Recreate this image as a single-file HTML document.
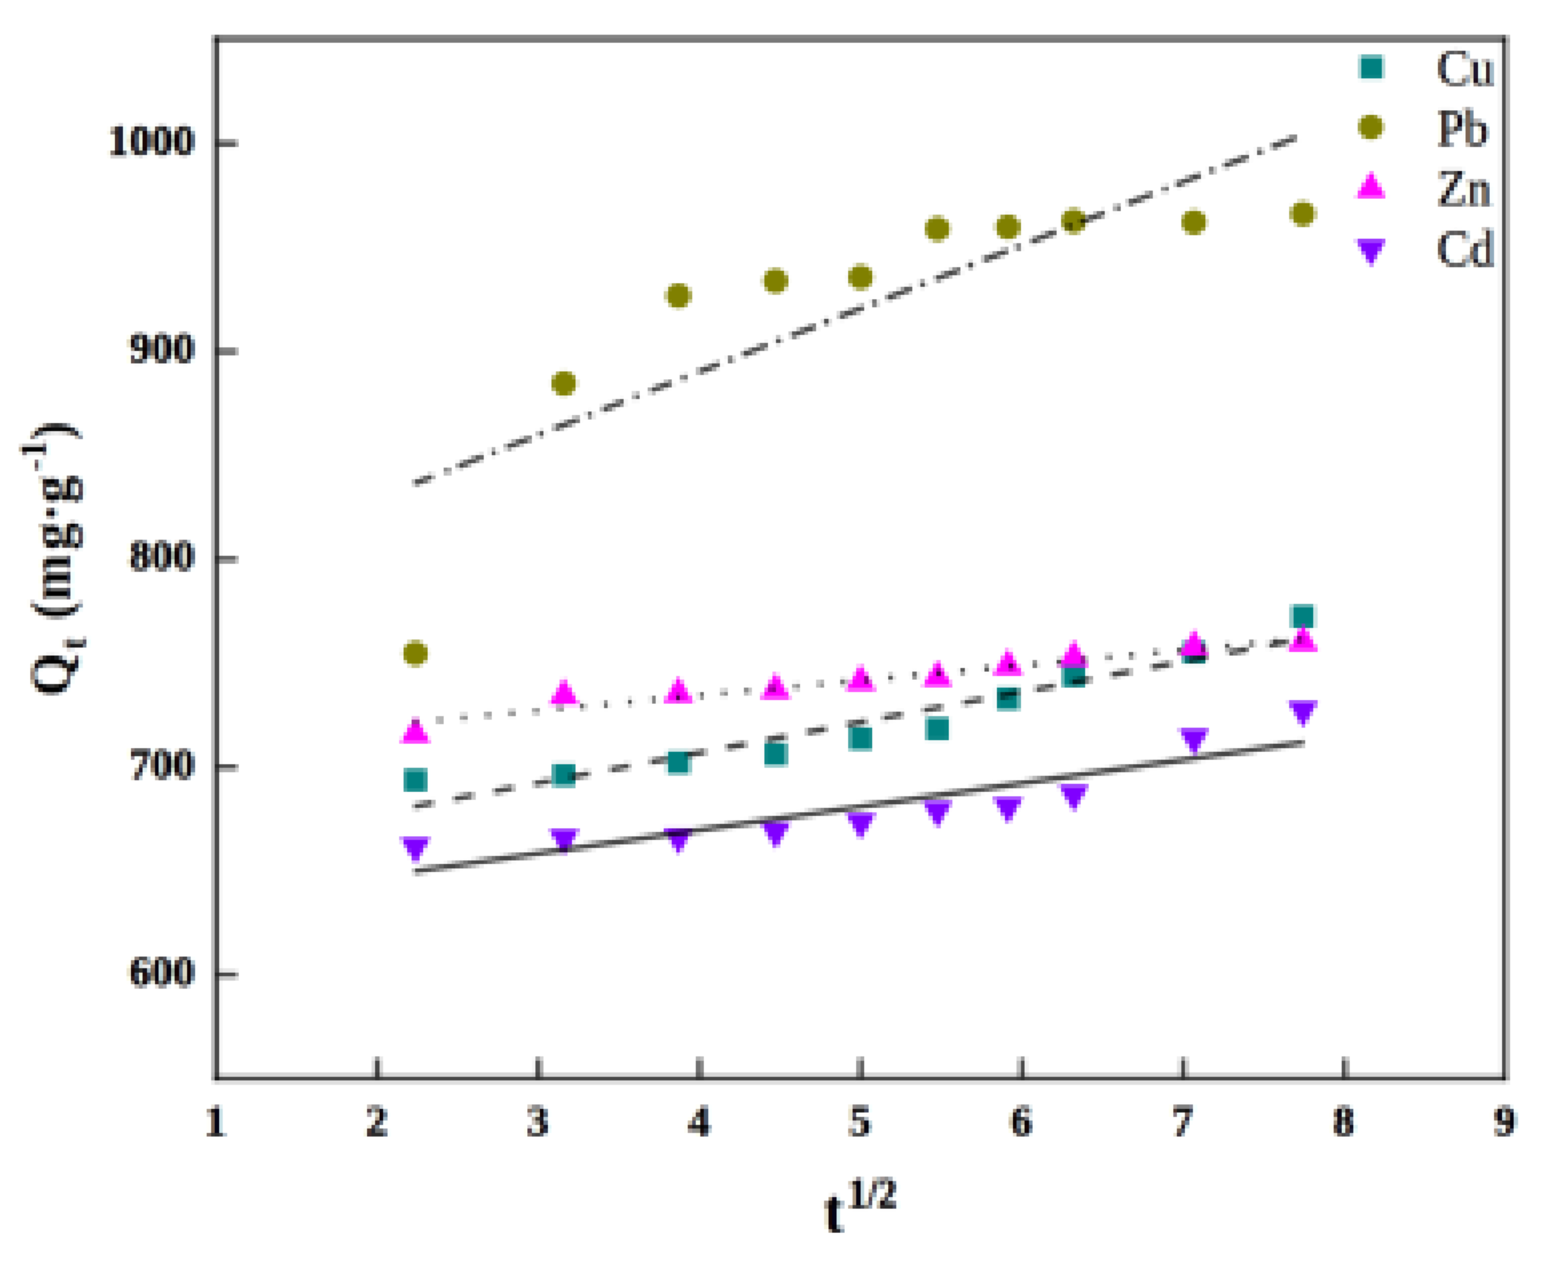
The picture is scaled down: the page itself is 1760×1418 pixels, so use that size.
<!DOCTYPE html>
<html lang="en"><head><meta charset="utf-8"><title>Intraparticle diffusion plot</title>
<style>html,body{margin:0;padding:0;background:#fff}body{width:1760px;height:1418px;overflow:hidden}svg{display:block}text{font-family:"Liberation Serif","DejaVu Serif",serif;fill:#000}.b{font-weight:bold;stroke:#000;stroke-width:0.8px}.r{stroke:#222;stroke-width:0.5px}.b2{font-weight:bold}</style></head><body>
<svg width="1760" height="1418" viewBox="0 0 1760 1418">
<defs><filter id="bl" filterUnits="userSpaceOnUse" primitiveUnits="userSpaceOnUse" x="0" y="0" width="1760" height="1418" color-interpolation-filters="sRGB">
<feFlood flood-color="#000" x="5" y="0" width="1" height="1418" result="fa"/>
<feOffset in="fa" dx="0" dy="0" x="0" y="0" width="9" height="1418" result="ta"/>
<feTile in="ta" x="0" y="0" width="1760" height="1418" result="colA"/>
<feFlood flood-color="#000" x="0" y="0" width="1" height="1418" result="fb"/>
<feOffset in="fb" dx="0" dy="0" x="0" y="0" width="9" height="1418" result="tb"/>
<feTile in="tb" x="0" y="0" width="1760" height="1418" result="colB"/>
<feFlood flood-color="#000" x="0" y="5" width="1760" height="1" result="fc"/>
<feOffset in="fc" dx="0" dy="0" x="0" y="0" width="1760" height="9" result="tc"/>
<feTile in="tc" x="0" y="0" width="1760" height="1418" result="rowA"/>
<feFlood flood-color="#000" x="0" y="0" width="1760" height="1" result="fd"/>
<feOffset in="fd" dx="0" dy="0" x="0" y="0" width="1760" height="9" result="td"/>
<feTile in="td" x="0" y="0" width="1760" height="1418" result="rowB"/>
<feConvolveMatrix in="SourceGraphic" order="6 1" targetX="3" targetY="0" kernelMatrix="0.25 1 1 1 1 0.25" divisor="4.5" edgeMode="duplicate" preserveAlpha="true" result="ca"/>
<feConvolveMatrix in="SourceGraphic" order="5 1" targetX="2" targetY="0" kernelMatrix="0.75 1 1 1 0.75" divisor="4.5" edgeMode="duplicate" preserveAlpha="true" result="cb"/>
<feComposite in="ca" in2="colA" operator="in" result="sa"/>
<feComposite in="cb" in2="colB" operator="in" result="sb"/>
<feMorphology in="sa" operator="dilate" radius="2 0" result="da"/>
<feMorphology in="sb" operator="dilate" radius="2 0" result="db"/>
<feMerge result="h"><feMergeNode in="da"/><feMergeNode in="db"/></feMerge>
<feConvolveMatrix in="h" order="1 6" targetX="0" targetY="3" kernelMatrix="0.25 1 1 1 1 0.25" divisor="4.5" edgeMode="duplicate" preserveAlpha="true" result="va"/>
<feConvolveMatrix in="h" order="1 5" targetX="0" targetY="2" kernelMatrix="0.75 1 1 1 0.75" divisor="4.5" edgeMode="duplicate" preserveAlpha="true" result="vb"/>
<feComposite in="va" in2="rowA" operator="in" result="ra"/>
<feComposite in="vb" in2="rowB" operator="in" result="rb"/>
<feMorphology in="ra" operator="dilate" radius="0 2" result="ea"/>
<feMorphology in="rb" operator="dilate" radius="0 2" result="eb"/>
<feFlood flood-color="#fff" x="0" y="0" width="1760" height="1418" result="wh"/>
<feMerge result="px"><feMergeNode in="wh"/><feMergeNode in="ea"/><feMergeNode in="eb"/></feMerge>
<feConvolveMatrix in="px" order="3" kernelMatrix="0.0225 0.105 0.0225 0.105 0.49 0.105 0.0225 0.105 0.0225" divisor="1" edgeMode="duplicate" preserveAlpha="true"/>
</filter>
<filter id="lcd" filterUnits="userSpaceOnUse" x="0" y="0" width="1760" height="1418" color-interpolation-filters="sRGB">
<feOffset in="SourceAlpha" dx="2" dy="0" result="ar"/>
<feOffset in="SourceAlpha" dx="-2" dy="0" result="ab"/>
<feColorMatrix in="ar" type="matrix" values="0 0 0 1 0 0 0 0 0 0 0 0 0 0 0 0 0 0 0 1" result="pr"/>
<feColorMatrix in="SourceAlpha" type="matrix" values="0 0 0 0 0 0 0 0 1 0 0 0 0 0 0 0 0 0 0 1" result="pg"/>
<feColorMatrix in="ab" type="matrix" values="0 0 0 0 0 0 0 0 0 0 0 0 0 1 0 0 0 0 0 1" result="pb"/>
<feComposite in="pr" in2="pg" operator="arithmetic" k1="0" k2="1" k3="1" k4="0" result="prg"/>
<feComposite in="prg" in2="pb" operator="arithmetic" k1="0" k2="1" k3="1" k4="0" result="pack"/>
<feColorMatrix in="pack" type="matrix" values="-0.22 -0.78 0 0 1 0 -1 0 0 1 0 -0.78 -0.22 0 1 0 0 0 0 1"/>
</filter></defs>
<rect width="1760" height="1418" fill="#fff"/>
<g filter="url(#bl)">
<rect width="1760" height="1418" fill="#fff"/>
<g filter="url(#lcd)">
<text class="r" transform="translate(1613 95.0) scale(1 1.05)" font-size="55">Cu</text>
<text class="r" transform="translate(1613 162.5) scale(1 1.05)" font-size="55">Pb</text>
<text class="r" transform="translate(1613 230.0) scale(1 1.05)" font-size="55">Zn</text>
<text class="r" transform="translate(1613 297.5) scale(1 1.05)" font-size="55">Cd</text>
<text class="b" x="218.5" y="1106.9" font-size="49" text-anchor="end">600</text>
<text class="b" x="218.5" y="873.6" font-size="49" text-anchor="end">700</text>
<text class="b" x="218.5" y="640.2" font-size="49" text-anchor="end">800</text>
<text class="b" x="218.5" y="406.8" font-size="49" text-anchor="end">900</text>
<text class="b" x="218.5" y="173.5" font-size="49" text-anchor="end">1000</text>
<text class="b" x="241.8" y="1275.3" font-size="49" text-anchor="middle">1</text>
<text class="b" x="422.8" y="1275.3" font-size="49" text-anchor="middle">2</text>
<text class="b" x="603.7" y="1275.3" font-size="49" text-anchor="middle">3</text>
<text class="b" x="784.7" y="1275.3" font-size="49" text-anchor="middle">4</text>
<text class="b" x="965.6" y="1275.3" font-size="49" text-anchor="middle">5</text>
<text class="b" x="1146.6" y="1275.3" font-size="49" text-anchor="middle">6</text>
<text class="b" x="1327.5" y="1275.3" font-size="49" text-anchor="middle">7</text>
<text class="b" x="1508.5" y="1275.3" font-size="49" text-anchor="middle">8</text>
<text class="b" x="1689.4" y="1275.3" font-size="49" text-anchor="middle">9</text>
<text class="b" transform="translate(925 1383) scale(1 1.12)" font-size="63">t<tspan font-size="43.5" dx="5.5" dy="-24.1">1/2</tspan></text>
<text class="b2" transform="translate(78.5 782) rotate(-90)" font-size="63">Q<tspan font-size="42" dy="18" dx="3">t</tspan><tspan dy="-18" dx="4.5"> (m</tspan><tspan dx="4.5">g·g</tspan><tspan font-size="42" dy="-27" dx="4.5">-1</tspan><tspan dy="27">)</tspan></text>
</g>
<path d="M242.75 40.20V1213.95" stroke="#000" stroke-opacity="0.73" stroke-width="6.3" fill="none"/>
<path d="M1688.85 40.20V1213.95" stroke="#000" stroke-opacity="0.73" stroke-width="6.3" fill="none"/>
<path d="M239.60 43.35H1692.00" stroke="#000" stroke-opacity="0.73" stroke-width="6.3" fill="none"/>
<path d="M239.60 1210.80H1692.00" stroke="#000" stroke-opacity="0.73" stroke-width="6.3" fill="none"/>
<path d="M423.55 1210.80V1188.30M604.50 1210.80V1188.30M785.45 1210.80V1188.30M966.40 1210.80V1188.30M1147.35 1210.80V1188.30M1328.30 1210.80V1188.30M1509.25 1210.80V1188.30M242.75 1094.42H266.25M242.75 861.06H266.25M242.75 627.70H266.25M242.75 394.34H266.25M242.75 160.98H266.25" stroke="#000" stroke-opacity="0.73" stroke-width="6.3" fill="none"/>
<g fill="#008080"><rect x="453.60" y="863.45" width="25.30" height="25.30"/><rect x="620.55" y="857.45" width="25.30" height="25.30"/><rect x="748.95" y="843.45" width="25.30" height="25.30"/><rect x="857.85" y="834.20" width="25.30" height="25.30"/><rect x="953.55" y="816.70" width="25.30" height="25.30"/><rect x="1039.55" y="805.45" width="25.30" height="25.30"/><rect x="1118.75" y="771.70" width="25.30" height="25.30"/><rect x="1192.55" y="746.20" width="25.30" height="25.30"/><rect x="1327.55" y="719.95" width="25.30" height="25.30"/><rect x="1449.85" y="679.45" width="25.30" height="25.30"/></g>
<g fill="#808000"><circle cx="466.25" cy="733.75" r="14.0"/><circle cx="633.20" cy="430.50" r="14.0"/><circle cx="761.60" cy="332.00" r="14.0"/><circle cx="870.50" cy="315.50" r="14.0"/><circle cx="966.20" cy="311.25" r="14.0"/><circle cx="1052.20" cy="257.00" r="14.0"/><circle cx="1131.40" cy="255.00" r="14.0"/><circle cx="1205.20" cy="248.25" r="14.0"/><circle cx="1340.20" cy="249.50" r="14.0"/><circle cx="1462.50" cy="240.00" r="14.0"/></g>
<path fill="#ff00ff" d="M449.25 834.00h34.00l-17.00 -30.00zM616.20 791.00h34.00l-17.00 -30.00zM744.60 789.00h34.00l-17.00 -30.00zM853.50 784.50h34.00l-17.00 -30.00zM949.20 775.25h34.00l-17.00 -30.00zM1035.20 770.75h34.00l-17.00 -30.00zM1114.40 757.75h34.00l-17.00 -30.00zM1188.20 748.25h34.00l-17.00 -30.00zM1323.20 736.50h34.00l-17.00 -30.00zM1445.50 730.75h34.00l-17.00 -30.00z"/>
<path fill="#8000ff" d="M449.25 940.25h34.00l-17.00 30.00zM616.20 931.00h34.00l-17.00 30.00zM744.60 929.75h34.00l-17.00 30.00zM853.50 923.50h34.00l-17.00 30.00zM949.20 913.00h34.00l-17.00 30.00zM1035.20 899.75h34.00l-17.00 30.00zM1114.40 895.25h34.00l-17.00 30.00zM1188.20 881.50h34.00l-17.00 30.00zM1323.20 818.50h34.00l-17.00 30.00zM1445.50 787.25h34.00l-17.00 30.00z"/>
<path d="M464.60 543.13L485.90 534.77M514.00 523.74L541.80 512.82M568.00 502.54L595.80 491.63M621.80 481.42L649.60 470.51M676.15 460.09L700.15 450.67M729.90 439.00L753.90 429.58M783.65 417.90L807.65 408.48M833.65 398.27L861.45 387.36M888.00 376.94L915.80 366.03M941.80 355.82L969.60 344.91M995.50 334.75L1023.30 323.84M1049.90 313.40L1077.70 302.48M1103.65 292.30L1131.45 281.39M1157.40 271.20L1185.20 260.29M1212.40 249.61L1240.20 238.70M1266.15 228.52L1293.95 217.61M1319.90 207.42L1347.70 196.51M1373.65 186.32L1401.45 175.41M1427.40 165.23L1455.20 154.32M499.30 529.51L504.70 527.39M551.55 509.00L556.95 506.88M604.60 488.18L610.00 486.06M659.40 466.67L664.80 464.55M711.80 446.10L717.20 443.98M765.40 425.06L770.80 422.94M817.55 404.59L822.95 402.47M871.30 383.50L876.70 381.38M925.05 362.40L930.45 360.28M979.20 341.15L984.60 339.03M1032.90 320.07L1038.30 317.95M1086.70 298.95L1092.10 296.83M1139.80 278.11L1145.20 275.99M1197.90 255.31L1203.30 253.19M1251.70 234.19L1257.10 232.07M1305.40 213.11L1310.80 210.99M1357.90 192.51L1363.30 190.39M1411.70 171.39L1417.10 169.27" stroke="#000" stroke-opacity="0.73" stroke-width="6.4" fill="none"/>
<path d="M463.85 810.97L468.65 810.53M491.00 808.43L495.80 807.98M518.00 805.91L522.80 805.46M545.10 803.37L549.90 802.92M572.00 800.85L576.80 800.40M599.10 798.32L603.90 797.87M626.10 795.79L630.90 795.34M651.60 793.40L656.40 792.95M677.60 790.97L682.40 790.52M704.70 788.43L709.50 787.98M731.35 785.94L736.15 785.49M758.85 783.36L763.65 782.91M785.10 780.91L789.90 780.46M810.70 778.51L815.50 778.06M836.60 776.09L841.40 775.64M864.60 773.46L869.40 773.02M891.70 770.93L896.50 770.48M918.85 768.39L923.65 767.94M944.50 765.99L949.30 765.54M970.70 763.53L975.50 763.08M997.60 761.02L1002.40 760.57M1024.50 758.50L1029.30 758.05M1051.35 755.98L1056.15 755.54M1078.20 753.47L1083.00 753.02M1105.10 750.95L1109.90 750.50M1132.60 748.38L1137.40 747.93M1159.50 745.86L1164.30 745.41M1186.35 743.35L1191.15 742.90M1214.60 740.70L1219.40 740.26M1242.70 738.07L1247.50 737.62M1267.80 735.72L1272.60 735.28M1295.20 733.16L1300.00 732.71M1321.70 730.68L1326.50 730.23M1349.10 728.12L1353.90 727.67M1375.60 725.63L1380.40 725.19M1403.00 723.07L1407.80 722.62M1430.30 720.51L1435.10 720.07M1456.90 718.03L1461.70 717.58" stroke="#000" stroke-opacity="0.73" stroke-width="6.4" fill="none"/>
<path d="M464.50 905.58L486.30 901.47M509.50 897.09L531.30 892.98M554.50 888.60L576.30 884.49M599.30 880.15L617.90 876.64M639.90 872.49L661.70 868.37M684.90 863.99L706.70 859.88M729.90 855.50L748.50 851.99M770.50 847.84L792.30 843.73M815.50 839.35L837.30 835.24M860.50 830.86L882.30 826.74M905.50 822.37L927.30 818.25M950.50 813.87L972.30 809.76M991.15 806.20L1012.95 802.09M1036.15 797.71L1057.95 793.60M1081.15 789.22L1102.95 785.11M1121.80 781.55L1143.60 777.44M1162.40 773.89L1184.20 769.78M1203.00 766.23L1224.80 762.11M1247.50 757.83L1269.30 753.72M1292.60 749.32L1314.40 745.21M1333.20 741.66L1355.00 737.55M1379.00 733.02L1400.80 728.90M1424.00 724.53L1445.80 720.41" stroke="#000" stroke-opacity="0.73" stroke-width="6.4" fill="none"/>
<path d="M464.75 978.42L1464.00 833.43" stroke="#000" stroke-opacity="0.73" stroke-width="6.4" fill="none"/>
<rect x="1526.80" y="63.15" width="25.30" height="25.30" fill="#008080"/>
<circle cx="1538.75" cy="142.5" r="14.0" fill="#808000"/>
<path fill="#ff00ff" d="M1521.75 222.00h34.00l-17.00 -30.00z"/>
<path fill="#8000ff" d="M1521.75 269.25h34.00l-17.00 30.00z"/>
</g>
</svg>
</body></html>
